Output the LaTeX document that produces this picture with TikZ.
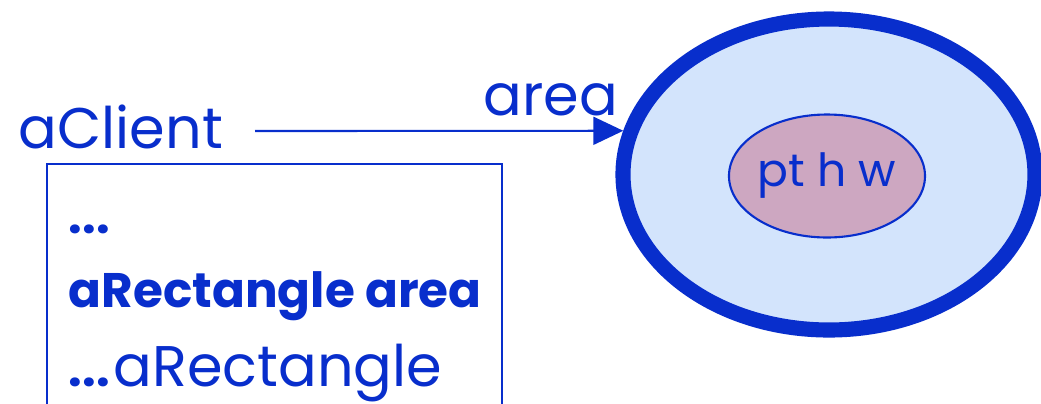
\documentclass[tikz,border=0pt]{standalone}
\usepackage{fontspec}
\setmainfont{Poppins}
\usetikzlibrary{shapes.geometric, arrows.meta}

\definecolor{ink}{HTML}{082ECC}
\definecolor{objfill}{HTML}{D3E4FC}
\definecolor{fieldfill}{HTML}{CDA7C1}

\begin{document}
\begin{tikzpicture}[
  every node/.style = {text=ink, inner sep=0pt},
  big/.style = {font=\fontsize{16.3}{20}\selectfont},
  small/.style = {font=\fontsize{13}{16}\selectfont},
  code/.style = {font=\fontsize{13.8}{17}\selectfont\bfseries},
  ref/.style = {draw=ink, line width=0.6pt, -{Triangle[length=3mm, width=2.8mm]}}
]
\useasboundingbox (0,0) rectangle (10.41,4.03);
\clip (0,0) rectangle (10.41,4.03);

% the rectangle object with its fields
\node[ellipse, draw=ink, line width=4.3pt, fill=objfill,
      minimum width=4.12cm, minimum height=3.11cm] (rect) at (8.29,2.285) {};
\node[ellipse, draw=ink, line width=0.6pt, fill=fieldfill,
      minimum width=1.88cm, minimum height=1.23cm, small] (fields) at (8.27,2.27) {pt h w};

% the client and its code
\node[big, anchor=base west] (client) at (0.18,2.55) {aClient};
\node[draw=ink, line width=0.6pt, minimum width=4.55cm, minimum height=2.8cm,
      anchor=north west] (body) at (0.46,2.40) {};
\node[code, anchor=base west] (l1) at ([shift={(0.22,-0.70)}]body.north west) {...};
\node[code, anchor=base west] (l2) at ([shift={(0.22,-1.44)}]body.north west) {aRectangle area};
\node[code, anchor=base west] (l3) at ([shift={(0.22,-2.23)}]body.north west) {...};
\node[big, anchor=base west] (l3b) at ([shift={(0.67,-2.23)}]body.north west) {aRectangle};

% the reference held by the client
\coordinate (from) at (2.55,2.72);
\draw[ref] (from) -- (rect.168);
\node[big, anchor=base west] (lbl) at (4.83,2.88) {area};
\end{tikzpicture}
\end{document}
